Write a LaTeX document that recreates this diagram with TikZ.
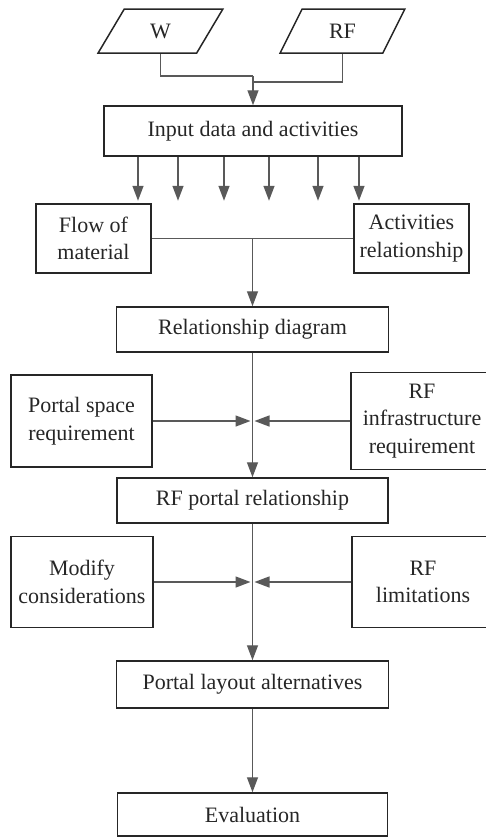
\documentclass[tikz,border=0pt]{standalone}
\usepackage{fontspec}
\setmainfont{Liberation Serif}
\usetikzlibrary{arrows.meta,shapes.geometric}
\begin{document}
\begin{tikzpicture}[x=1pt,y=-1pt,
  every node/.style = {align=center, font=\fontsize{22}{27.5}\selectfont, text=black!85},
  box/.style = {draw=black!85, line width=1.5pt, inner sep=0pt},
  data/.style = {box, trapezium, trapezium left angle=63, trapezium right angle=117,
    trapezium stretches=true, minimum width=125, minimum height=44},
  line/.style = {draw=black!65, line width=1.4pt},
  arr/.style = {line, -{Triangle[length=15pt,width=11pt]}}]
  \useasboundingbox (0,0) rectangle (485,838);

  % inputs
  \node[data] (W) at (160.5,31) {W};
  \node[data] (RF) at (342.5,31) {RF};
  \node[box, minimum width=298, minimum height=50] (input) at (253,131) {Input data and activities};
  \coordinate (jW) at (253,76);
  \coordinate (jRF) at (253,82);
  \draw[line] (W.south) |- (jW);
  \draw[line] (RF.south) |- (jRF);
  \draw[arr] (jW) -- (input.north);

  % analysis of the activities
  \node[box, minimum width=115, minimum height=69] (flow) at (93.5,238.5) {Flow of\\material};
  \node[box, minimum width=115, minimum height=69] (act) at (411.5,238.5) {Activities\\relationship};
  \foreach \x in {138,178,224,269,318,359}
    \draw[arr] (input.south -| \x,0) -- ++(0,44);
  \node[box, minimum width=272, minimum height=45] (rel) at (252.5,329.5) {Relationship diagram};
  \draw[line] (flow) -- (act);
  \draw[arr] (flow -| rel) -- (rel.north);

  % portal relationship
  \node[box, minimum width=141, minimum height=92] (space) at (81.5,421) {Portal space\\requirement};
  \node[box, minimum width=142, minimum height=97] (infra) at (422,421) {RF\\infrastructure\\requirement};
  \node[box, minimum width=271, minimum height=45] (portal) at (252.5,500.5) {RF portal relationship};
  \draw[arr] (rel) -- (portal);
  \draw[arr, shorten >=2pt] (space) -- (space -| rel);
  \draw[arr, shorten >=2pt] (infra) -- (infra -| rel);

  % layout and evaluation
  \node[box, minimum width=142, minimum height=91] (modify) at (82,582) {Modify\\considerations};
  \node[box, minimum width=142, minimum height=91] (limit) at (423,582) {RF\\limitations};
  \node[box, minimum width=272, minimum height=47] (layout) at (252.5,684.5) {Portal layout alternatives};
  \node[box, minimum width=270, minimum height=43] (eval) at (252.5,814.5) {Evaluation};
  \draw[arr] (portal) -- (layout);
  \draw[arr, shorten >=2pt] (modify) -- (modify -| rel);
  \draw[arr, shorten >=2pt] (limit) -- (limit -| rel);
  \draw[arr] (layout) -- (eval);
\end{tikzpicture}
\end{document}
